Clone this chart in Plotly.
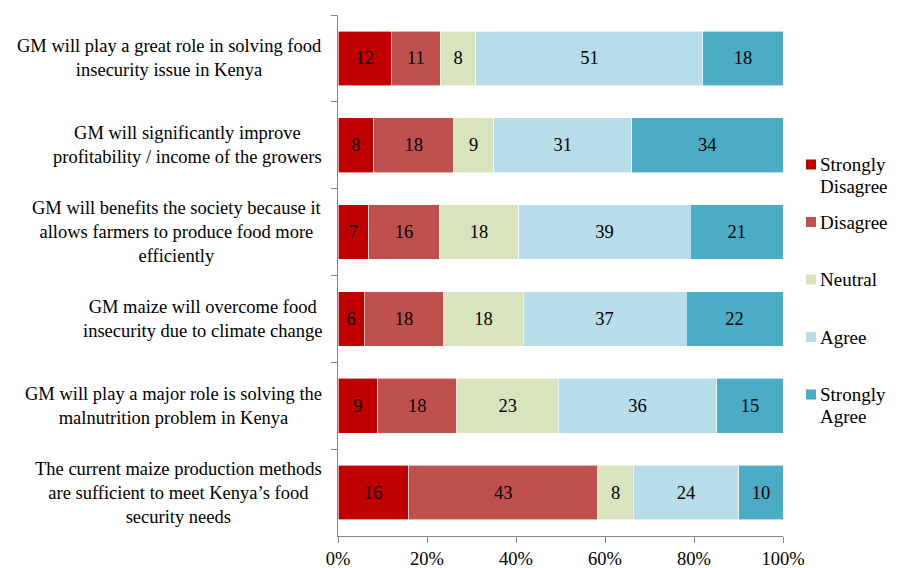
import plotly.graph_objects as go

categories = [
    "GM will play a great role in solving food<br>insecurity issue in Kenya",
    "GM will significantly improve<br>profitability / income of the growers",
    "GM will benefits the society because it<br>allows farmers to produce food more<br>efficiently",
    "GM maize will overcome food<br>insecurity due to climate change",
    "GM will play a major role is solving the<br>malnutrition problem in Kenya",
    "The current maize production methods<br>are sufficient to meet Kenya\u2019s food<br>security needs",
]
series_names = ["Strongly<br>Disagree", "Disagree", "Neutral", "Agree", "Strongly<br>Agree"]
strongly_disagree = [12, 8, 7, 6, 9, 16]
disagree = [11, 18, 16, 18, 18, 43]
neutral = [8, 9, 18, 18, 23, 8]
agree = [51, 31, 39, 37, 36, 24]
strongly_agree = [18, 34, 21, 22, 15, 10]
x_ticks = [0, 20, 40, 60, 80, 100]
x_tick_labels = ["0%", "20%", "40%", "60%", "80%", "100%"]

colors = ["#C00000", "#C0504D", "#D7E4BD", "#B7DDE8", "#4BACC6"]
series = [strongly_disagree, disagree, neutral, agree, strongly_agree]
FONT = "Liberation Serif"
FS = 18.5
LEG_FS = 19

# layout geometry (pixels)
W, H = 898, 568
ML, MR, MT, MB = 330, 123, 7, 40
PW = W - ML - MR
PH = H - MT - MB


def px_x(p):
    return (p - ML) / PW


def px_y(p):
    return (H - MB - p) / PH


fig = go.Figure()
for i, (name, vals, col) in enumerate(zip(series_names, series, colors)):
    fig.add_trace(go.Bar(
        y=categories, x=vals, name=name.replace("<br>", " "), orientation="h",
        marker=dict(color=col, line=dict(color="white", width=0.6)),
        text=[str(v) for v in vals], textposition="inside",
        insidetextanchor="middle", textangle=0,
        textfont=dict(family=FONT, size=FS, color="black"),
        showlegend=False,
    ))

for c in categories:
    fig.add_annotation(
        x=0, xref="paper", y=c, yref="y", text=c, showarrow=False,
        xanchor="right", xshift=-14, align="center",
        font=dict(family=FONT, size=FS, color="black"),
    )

# legend drawn as keyed squares + text
leg_first_line_y = 156.5
leg_step = 57.5
line_step = 22
for i, (name, col) in enumerate(zip(series_names, colors)):
    cy = leg_first_line_y + i * leg_step
    fig.add_shape(
        type="rect", xref="paper", yref="paper",
        x0=px_x(798), x1=px_x(808), y0=px_y(cy + 5), y1=px_y(cy - 5),
        fillcolor=col, line=dict(width=0),
    )
    for k, line in enumerate(name.split("<br>")):
        fig.add_annotation(
            x=px_x(810), xref="paper", y=px_y(cy + k * line_step), yref="paper",
            text=line, showarrow=False, xanchor="left", yanchor="middle",
            align="left", font=dict(family=FONT, size=LEG_FS, color="black"),
        )

fig.update_layout(
    barmode="stack", barnorm="percent", bargap=0.37,
    width=W, height=H,
    margin=dict(l=ML, r=MR, t=MT, b=MB),
    paper_bgcolor="white", plot_bgcolor="white",
    font=dict(family=FONT, size=FS, color="black"),
    uniformtext=dict(minsize=FS, mode="show"),
    showlegend=False,
    xaxis=dict(
        range=[0, 100], tickvals=x_ticks, ticktext=x_tick_labels,
        showgrid=False, zeroline=False, showline=True, linecolor="#868686",
        ticks="outside", ticklen=6, tickcolor="#868686",
        tickfont=dict(family=FONT, size=FS, color="black"),
    ),
    yaxis=dict(
        autorange="reversed", showticklabels=False, showgrid=False,
        showline=True, linecolor="#868686", ticks="outside", ticklen=6,
        tickcolor="#868686", tickson="boundaries",
    ),
)

fig.write_html("out.html")
